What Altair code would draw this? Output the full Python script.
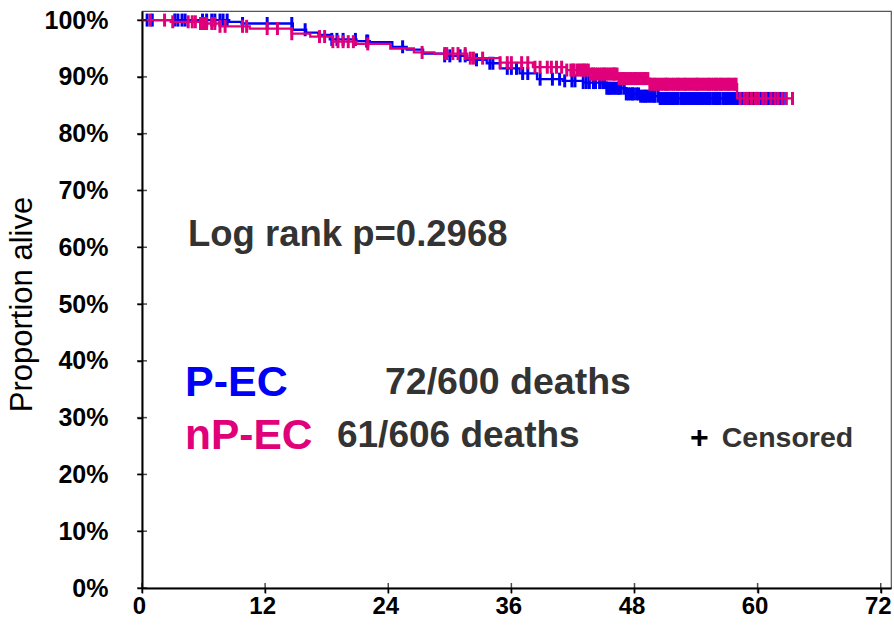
import altair as alt
import numpy as np
import pandas as pd

# Kaplan-Meier steps: month of each step and proportion alive after it
pec_time = [0, 8.5, 9.7, 14.7, 16.0, 17.2, 18.3, 20.9, 22.2, 24.4, 25.8, 27.4,
            29.5, 31.7, 33.6, 34.9, 36.8, 38.5, 41.0, 43.0, 45.3, 47.2, 48.5, 50.5]
pec_surv = [1.000, 0.997, 0.994, 0.983, 0.978, 0.974, 0.966, 0.963, 0.961, 0.953, 0.948, 0.941,
            0.937, 0.930, 0.924, 0.915, 0.906, 0.896, 0.893, 0.890, 0.880, 0.870, 0.866, 0.862]
pec_end = 62.5

npec_time = [0, 2.8, 5.7, 7.6, 10.5, 14.6, 16.4, 18.6, 20.9, 24.2, 26.5, 28.5,
             31.7, 34.9, 38.1, 41.4, 43.6, 46.5, 49.5, 58.0]
npec_surv = [1.000, 0.997, 0.994, 0.989, 0.985, 0.976, 0.971, 0.962, 0.958, 0.950, 0.943, 0.941,
             0.933, 0.925, 0.917, 0.912, 0.905, 0.897, 0.887, 0.862]
npec_end = 63.4

# Censoring times (months)
pec_censor = [0.5, 1.0, 3.2, 3.5, 3.9, 4.2, 5.9, 6.3, 6.8, 7.1, 7.6, 7.9, 8.3, 9.8, 12.2, 14.6,
              15.9, 18.5, 19.0, 19.6, 20.8, 21.9, 22.0, 25.4, 29.5, 30.0, 31.0, 31.5, 32.6,
              33.9, 34.2, 35.6, 36.0, 36.5, 37.1, 37.6, 38.8, 40.0, 40.7, 41.2, 41.9, 42.2,
              43.0, 43.3, 43.6, 44.0, 44.2, 44.6, 44.9, 45.1, 45.3, 45.5, 45.6, 45.8, 46.0,
              46.2, 46.4, 46.5, 46.7, 47.0, 47.2, 47.4, 47.6, 47.8, 47.9, 48.2, 48.4, 48.6,
              48.8, 49.0, 49.1, 49.3, 49.5, 49.7, 49.9, 50.0, 50.3, 50.5, 50.7, 50.9, 51.0,
              51.2, 51.3, 51.5, 51.7, 51.8, 52.0, 52.2, 52.5, 52.7, 52.9, 53.0, 53.2, 53.4,
              53.6, 53.8, 53.9, 54.1, 54.3, 54.5, 54.6, 54.8, 55.0, 55.1, 55.3, 55.4, 55.7,
              55.9, 56.0, 56.2, 56.3, 56.6, 56.8, 56.9, 57.0, 57.2, 57.4, 57.6, 57.8, 58.0,
              58.1, 58.4, 58.6, 58.8, 59.0, 59.2, 59.3, 59.5, 59.7, 59.9, 60.0, 60.2, 60.4,
              60.6, 60.8, 60.9, 61.0, 61.2, 61.4, 61.5, 61.7, 61.8, 62.0, 62.1, 62.3, 62.5]
npec_censor = [0.8, 2.2, 3.0, 4.5, 4.9, 5.2, 5.7, 5.9, 6.0, 6.1, 6.3, 6.8, 7.1, 7.6, 8.1, 9.8,
               10.2, 12.2, 13.2, 14.6, 17.3, 17.8, 18.6, 19.1, 19.6, 20.1, 20.6, 22.0, 27.3,
               29.5, 29.7, 30.3, 30.8, 31.5, 32.0, 32.3, 33.2, 34.9, 35.6, 36.0, 37.0, 37.6,
               38.3, 38.8, 39.5, 39.9, 40.4, 40.9, 41.4, 41.8, 42.0, 42.1, 42.4, 42.6, 42.8,
               43.0, 43.1, 43.3, 43.5, 43.7, 43.9, 44.0, 44.2, 44.4, 44.6, 44.8, 45.0, 45.1,
               45.3, 45.5, 45.7, 45.9, 46.0, 46.1, 46.3, 46.5, 46.7, 46.9, 47.0, 47.2, 47.4,
               47.6, 47.8, 48.0, 48.1, 48.3, 48.5, 48.7, 48.9, 49.0, 49.1, 49.3, 49.5, 49.7,
               49.9, 50.0, 50.2, 50.4, 50.6, 50.8, 51.0, 51.1, 51.2, 51.4, 51.6, 51.8, 52.0,
               52.2, 52.3, 52.5, 52.7, 52.9, 53.0, 53.2, 53.4, 53.6, 53.8, 54.0, 54.1, 54.2,
               54.4, 54.6, 54.8, 55.0, 55.2, 55.3, 55.5, 55.7, 55.9, 56.0, 56.2, 56.4, 56.5,
               56.7, 56.9, 57.1, 57.2, 57.4, 57.6, 57.8, 57.9, 58.3, 58.7, 59.0, 59.4, 59.8,
               60.1, 60.5, 60.8, 61.3, 61.7, 62.0, 62.4, 62.8, 63.4]

x_ticks = [0, 12, 24, 36, 48, 60, 72]
y_ticks = [0.0, 0.1, 0.2, 0.3, 0.4, 0.5, 0.6, 0.7, 0.8, 0.9, 1.0]

BLUE = "#0000F5"
PINK = "#E0007A"
DARK = "#333333"


def step_frame(times, surv, end):
    return pd.DataFrame({"month": list(times) + [end], "alive": list(surv) + [surv[-1]]})


def censor_frame(censor, times, surv):
    idx = np.searchsorted(np.array(times), np.array(censor), side="right") - 1
    return pd.DataFrame({"month": censor, "alive": np.array(surv)[idx]})


x_enc = alt.X(
    "month:Q",
    scale=alt.Scale(domain=[0, 73], nice=False, zero=False),
    axis=alt.Axis(
        values=x_ticks, title=None, grid=False, domainColor="black", domainWidth=2,
        tickColor="black", tickWidth=1.5, tickSize=5, labelPadding=1, labelOffset=-3,
        labelFont="Liberation Sans", labelFontWeight="bold", labelFontSize=24,
        labelColor="black", labelFlush=False,
    ),
)
y_enc = alt.Y(
    "alive:Q",
    scale=alt.Scale(domain=[0, 1.016], nice=False, zero=False),
    axis=alt.Axis(
        values=y_ticks, format=".0%", grid=False, domainColor="black", domainWidth=2,
        tickColor="black", tickWidth=1.5, tickSize=5, labelPadding=29,
        labelFont="Liberation Sans", labelFontWeight="bold", labelFontSize=25,
        labelColor="black", labelFlush=False,
        title="Proportion alive", titleFont="Liberation Sans", titleFontWeight="normal",
        titleFontSize=31, titleColor="black", titleAngle=-90, titleX=-120, titleY=293,
        titleAlign="center", titleBaseline="middle",
    ),
)


def curve(times, surv, end, color):
    return alt.Chart(step_frame(times, surv, end)).mark_line(
        interpolate="step-after", color=color, strokeWidth=2.3
    ).encode(x=x_enc, y=y_enc)


def censors(censor, times, surv, color):
    return alt.Chart(censor_frame(censor, times, surv)).mark_tick(
        orient="vertical", color=color, size=13, thickness=3, opacity=1
    ).encode(x=x_enc, y=y_enc)


# axis ticks that cross the axis lines
xt = alt.Chart(pd.DataFrame({"month": x_ticks, "alive": [0.0] * len(x_ticks)})).mark_tick(
    orient="vertical", color="black", size=10, thickness=1.5
).encode(x=x_enc, y=y_enc)
yt = alt.Chart(pd.DataFrame({"month": [0.0] * len(y_ticks), "alive": y_ticks})).mark_tick(
    orient="horizontal", color="black", size=10, thickness=1.5
).encode(x=x_enc, y=y_enc)

# annotations
notes_month = [4.48, 4.19, 23.68, 4.19, 19.0, 53.4, 56.5]
notes_alive = [0.6216, 0.361, 0.361, 0.2676, 0.2676, 0.264, 0.264]
notes_text = ["Log rank p=0.2968", "P-EC", "72/600 deaths", "nP-EC", "61/606 deaths", "+", "Censored"]
notes_color = [DARK, BLUE, DARK, PINK, DARK, "black", DARK]
notes_size = [36.5, 43, 37.5, 42.5, 37, 32, 28.5]

notes = []
for m, a, t, c, s in zip(notes_month, notes_alive, notes_text, notes_color, notes_size):
    notes.append(
        alt.Chart(pd.DataFrame({"month": [m], "alive": [a], "label": [t]})).mark_text(
            align="left", baseline="middle", font="Liberation Sans", fontWeight="bold",
            fontSize=s, color=c,
        ).encode(x=x_enc, y=y_enc, text="label:N")
    )

chart = alt.layer(
    curve(pec_time, pec_surv, pec_end, BLUE),
    censors(pec_censor, pec_time, pec_surv, BLUE),
    curve(npec_time, npec_surv, npec_end, PINK),
    censors(npec_censor, npec_time, npec_surv, PINK),
    xt, yt, *notes,
).properties(
    width=749, height=577,
    autosize=alt.AutoSizeParams(type="none"),
    padding={"left": 142, "top": 11, "right": 3, "bottom": 56},
    background="white",
).configure_view(
    stroke="#555555", strokeWidth=1.2
)

chart.save("out.html", embed_options={"renderer": "svg", "actions": False})
